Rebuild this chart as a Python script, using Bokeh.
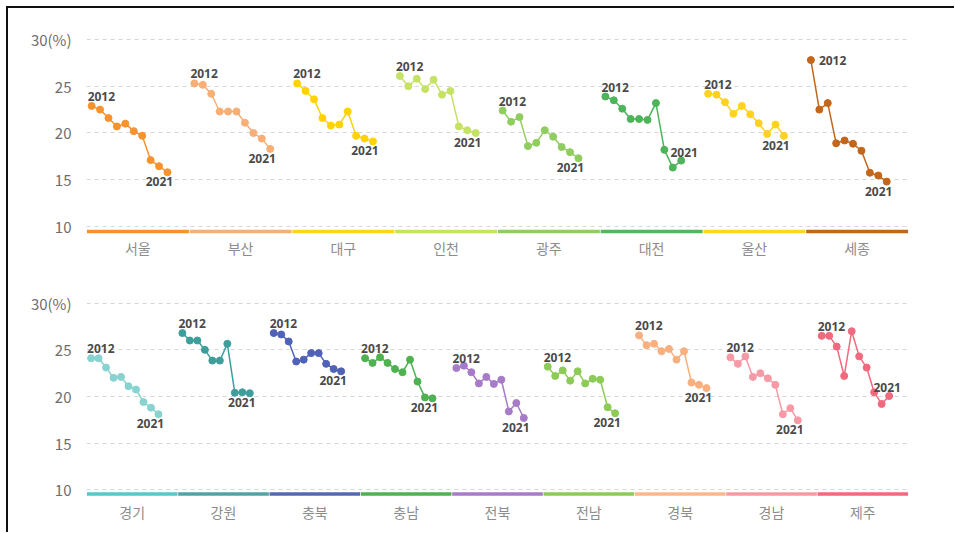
from bokeh.plotting import figure
from bokeh.models import Range1d, FixedTicker, CustomJSTickFormatter
from bokeh.layouts import column
from bokeh.embed import file_html
from bokeh.resources import INLINE
from bokeh.core.properties import value

years = list(range(2012, 2022))

# ---- top panel data ----
top_regions = ["서울", "부산", "대구", "인천", "광주", "대전", "울산", "세종"]
seoul = [22.9, 22.5, 21.6, 20.7, 21.0, 20.2, 19.7, 17.1, 16.45, 15.8]
busan = [25.3, 25.15, 24.2, 22.3, 22.3, 22.3, 21.1, 20.0, 19.4, 18.3]
daegu = [25.3, 24.5, 23.6, 21.6, 20.8, 20.9, 22.3, 19.7, 19.4, 19.1]
incheon = [26.1, 25.0, 25.8, 24.7, 25.7, 24.1, 24.5, 20.7, 20.3, 20.0]
gwangju = [22.4, 21.2, 21.7, 18.6, 18.95, 20.3, 19.6, 18.5, 17.95, 17.3]
daejeon = [23.9, 23.5, 22.6, 21.5, 21.5, 21.4, 23.2, 18.2, 16.3, 17.05]
ulsan = [24.2, 24.1, 23.3, 22.05, 22.9, 22.0, 21.05, 19.9, 20.9, 19.7]
sejong = [27.8, 22.5, 23.2, 18.9, 19.2, 18.85, 18.1, 15.75, 15.45, 14.8]
top_series = [seoul, busan, daegu, incheon, gwangju, daejeon, ulsan, sejong]
top_line_colors = ["#F6932C", "#F8AE74", "#FFD200", "#C6E265", "#8FCD5F", "#4DB45A", "#FFD21F", "#C4661A"]
top_bar_colors = ["#F6932C", "#F8AE74", "#FFD51A", "#C5E35C", "#8FCD5F", "#52B85C", "#FFD81E", "#C4661A"]

# ---- bottom panel data ----
bottom_regions = ["경기", "강원", "충북", "충남", "전북", "전남", "경북", "경남", "제주"]
gyeonggi = [24.1, 24.1, 23.1, 22.0, 22.1, 21.1, 20.75, 19.4, 18.8, 18.1]
gangwon = [26.8, 26.0, 26.0, 25.0, 23.85, 23.85, 25.65, 20.4, 20.45, 20.35]
chungbuk = [26.8, 26.65, 25.9, 23.75, 23.95, 24.65, 24.65, 23.5, 22.95, 22.7]
chungnam = [24.1, 23.6, 24.2, 23.6, 22.95, 22.6, 23.95, 21.6, 19.9, 19.8]
jeonbuk = [23.05, 23.3, 22.6, 21.4, 22.1, 21.35, 21.8, 18.4, 19.3, 17.7]
jeonnam = [23.2, 22.2, 22.8, 21.7, 22.7, 21.4, 21.9, 21.8, 18.85, 18.2]
gyeongbuk = [26.55, 25.5, 25.65, 24.85, 25.1, 23.95, 24.85, 21.5, 21.25, 20.9]
gyeongnam = [24.2, 23.5, 24.3, 22.1, 22.5, 21.95, 21.25, 18.1, 18.75, 17.45]
jeju = [26.5, 26.5, 25.35, 22.2, 27.0, 24.3, 23.1, 20.45, 19.2, 20.05]
bottom_series = [gyeonggi, gangwon, chungbuk, chungnam, jeonbuk, jeonnam, gyeongbuk, gyeongnam, jeju]
bottom_line_colors = ["#86D3D0", "#3E9E9C", "#4F62B8", "#4DB24F", "#A77BC7", "#8CCB55", "#F9B07E", "#F79AA5", "#F0697E"]
bottom_bar_colors = ["#5BC5CB", "#4FA5A3", "#5468B5", "#4DB24F", "#A77BC7", "#8CCB55", "#FDB68A", "#F79AA5", "#F0697E"]

y_ticks = [10, 15, 20, 25, 30]

# label placement exceptions
first_label_mode = {"세종": "right"}
last_label_mode = {"대전": "above", "제주": "above"}
last_label_dx = {"대전": 3, "제주": -2}

LABEL_FONT = value("Noto Sans")
KR_FONT = "Noto Sans CJK KR"


def make_panel(regions, series, line_colors, bar_colors, y0, y1, width, height,
               b_left, b_right, b_top, b_bottom, bar_y, x_standoff):
    n = len(regions)
    p = figure(width=width, height=height, output_backend="svg", toolbar_location=None,
               x_range=Range1d(0, n), y_range=Range1d(y0, y1),
               min_border_left=b_left, min_border_right=b_right,
               min_border_top=b_top, min_border_bottom=b_bottom)
    p.outline_line_color = None
    p.background_fill_color = "white"
    p.border_fill_color = "white"
    p.xgrid.grid_line_color = None
    p.ygrid.ticker = FixedTicker(ticks=y_ticks)
    p.ygrid.grid_line_color = "#d6d6d6"
    p.ygrid.grid_line_dash = "4 4"
    p.ygrid.grid_line_width = 1

    p.yaxis.ticker = FixedTicker(ticks=y_ticks)
    p.yaxis.formatter = CustomJSTickFormatter(code="return tick == 30 ? '30(%)' : String(tick);")
    p.yaxis.axis_line_color = None
    p.yaxis.major_tick_line_color = None
    p.yaxis.minor_tick_line_color = None
    p.yaxis.major_tick_out = 0
    p.yaxis.major_tick_in = 0
    p.yaxis.major_label_standoff = 15
    p.yaxis.major_label_text_font = KR_FONT
    p.yaxis.major_label_text_font_size = "15px"
    p.yaxis.major_label_text_color = "#6e6e6e"

    p.xaxis.ticker = FixedTicker(ticks=[i + 0.5 for i in range(n)])
    p.xaxis.formatter = CustomJSTickFormatter(args=dict(names=regions),
                                              code="return names[Math.floor(tick)] || '';")
    p.xaxis.axis_line_color = None
    p.xaxis.major_tick_line_color = None
    p.xaxis.minor_tick_line_color = None
    p.xaxis.major_tick_out = 0
    p.xaxis.major_tick_in = 0
    p.xaxis.major_label_standoff = x_standoff
    p.xaxis.major_label_text_font = KR_FONT
    p.xaxis.major_label_text_font_size = "14px"
    p.xaxis.major_label_text_color = "#8c8c8c"

    for i, (name, vals, lc, bc) in enumerate(zip(regions, series, line_colors, bar_colors)):
        xs = [i + 0.05 + k * 0.082 for k in range(len(vals))]
        p.line(xs, vals, line_color=lc, line_width=1.5)
        p.scatter(xs, vals, size=7, fill_color=lc, line_color=lc)
        p.segment(x0=[i + 0.004], x1=[i + 0.996], y0=[bar_y], y1=[bar_y],
                  line_color=bc, line_width=3.5)

        txt = dict(text_font=LABEL_FONT, text_font_size="12px", text_font_style="bold",
                   text_color="#4a4a4a")
        if first_label_mode.get(name) == "right":
            p.text(x=[xs[0]], y=[vals[0]], text=[str(years[0])], text_align="left",
                   text_baseline="middle", x_offset=8, y_offset=0, **txt)
        else:
            p.text(x=[xs[0]], y=[vals[0]], text=[str(years[0])], text_align="left",
                   text_baseline="bottom", x_offset=-4, y_offset=-5, **txt)
        if last_label_mode.get(name) == "above":
            p.text(x=[xs[-1]], y=[vals[-1]], text=[str(years[-1])], text_align="center",
                   text_baseline="bottom", x_offset=last_label_dx.get(name, 0), y_offset=-4, **txt)
        else:
            p.text(x=[xs[-1]], y=[vals[-1]], text=[str(years[-1])], text_align="center",
                   text_baseline="top", x_offset=-8, y_offset=5, **txt)
    return p


p_top = make_panel(top_regions, top_series, top_line_colors, top_bar_colors,
                   9.144, 31.176, 946, 263, 78, 43, 20, 37, 9.47, 3)
p_bottom = make_panel(bottom_regions, bottom_series, bottom_line_colors, bottom_bar_colors,
                      9.175, 31.147, 946, 261, 78, 46, 21, 35, 9.55, 4)

layout = column(p_top, p_bottom, margin=(6, 0, 0, 6),
                styles={"border-left": "2px solid #111", "border-top": "2px solid #111"})

open("out.html", "w").write(file_html(layout, INLINE))
